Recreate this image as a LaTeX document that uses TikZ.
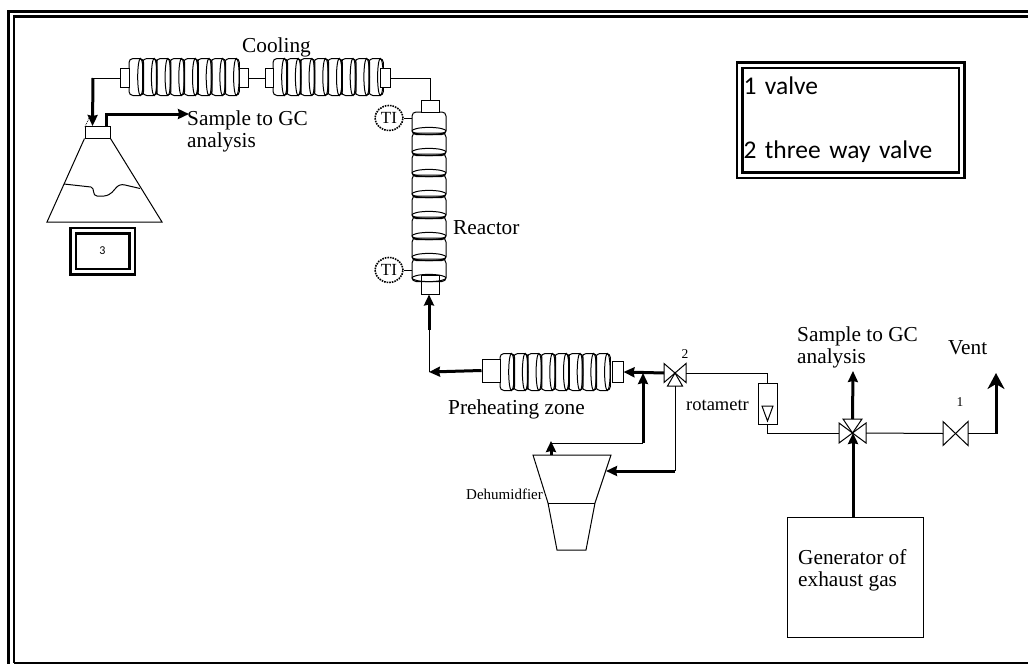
\documentclass[tikz,border=0pt]{standalone}
\usepackage{fontspec}
\setmainfont{Liberation Serif}
\newfontfamily\legendfont{Carlito}
\usetikzlibrary{
    shapes.geometric,
    arrows.meta,
    positioning,
    calc
}
\tikzset{
    wire/.style={line width=1pt, black},
    pipe/.style={line width=3pt, black},
    tipsmall/.style={-{Stealth[length=11pt, width=10pt, inset=1pt]}},
    tiplarge/.style={-{Stealth[length=16pt, width=17pt, inset=5pt]}},
    stub/.style={
        rectangle, draw, line width=1pt, fill=white, inner sep=0pt
    },
    lbl/.style={
        font=\fontsize{21.3}{22}\selectfont, inner sep=0pt, anchor=west, align=left
    },
    tinylbl/.style={font=\fontsize{13.5}{14}\selectfont, inner sep=0pt},
    tempring/.style={
        ellipse, draw, densely dotted, line width=1.6pt, inner sep=0pt,
        minimum width=28pt, minimum height=25pt, font=\fontsize{17}{17}\selectfont
    },
    dblbox/.style={
        rectangle, draw, double, line width=2.5pt, double distance=3pt, inner sep=0pt
    },
    pics/coil/.style={code={
        \foreach \i in {0,...,7} {
            \draw [wire, rounded corners=4pt]
                ({\i*13.7},-18.5) rectangle ({\i*13.7+14.5},18.5);
            \draw [wire] ({\i*13.7+11.5},0) ellipse (2.8 and 18.5);
        }
    }},
    pics/reactorcol/.style={code={
        \foreach \i in {0,...,7} {
            \draw [wire, rounded corners=4pt]
                (-17,{\i*21}) -- (17,{\i*21}) -- (17,{\i*21+22.5}) -- (-17,{\i*21+22.5}) -- cycle;
            \draw [wire] (0,{\i*21+19}) ellipse (17 and 3.6);
        }
    }},
    pics/valve/.style 2 args={code={
        \draw [wire] (-#1,-#2) -- (#1,#2) -- (#1,-#2) -- (-#1,#2) -- cycle;
        \coordinate (-west) at (-#1,0);
        \coordinate (-east) at (#1,0);
    }},
    pics/valveleg/.style 2 args={code={
        \draw [wire] (0,0) -- (-#1,#2) -- (#1,#2) -- cycle;
        \coordinate (-tip) at (0,#2);
    }},
}

\begin{document}
\begin{tikzpicture}[x=1pt, y=-1pt]

    \useasboundingbox (0,0) rectangle (1028,664);

    % ── frame ────────────────────────────────────────────
    \draw [line width=3pt] (1028,11.5) -- (8.5,11.5) -- (8.5,664);
    \draw [line width=2.4pt] (1028,16.5) -- (14,16.5) -- (14,663);
    \draw [line width=1.2pt] (14,663) -- (1028,663);

    % ── legend boxes ─────────────────────────────────────
    \node [dblbox, minimum width=222pt, minimum height=110pt, text width=214pt, align=left,
           font=\legendfont\fontsize{25.5}{25.5}\selectfont]
        (legendbox) at (850.5,120) {1 valve \\[38.5pt] 2 three way valve};
    \node [dblbox, minimum width=59pt, minimum height=41pt,
           font=\legendfont\fontsize{12}{12}\selectfont]
        (flaskbox) at (102.5,251) {3};

    % ── cooling coils ────────────────────────────────────
    \pic at (129,77) {coil};
    \pic at (273,77) {coil};
    \node [stub, minimum width=9pt, minimum height=19pt] (coolaL) at (124.5,78) {};
    \node [stub, minimum width=9pt, minimum height=19pt] (coolaR) at (243.5,78) {};
    \node [stub, minimum width=8pt, minimum height=19pt] (coolbL) at (269,78) {};
    \node [stub, minimum width=10pt, minimum height=19pt] (coolbR) at (385,78) {};
    \node [lbl] (cooling) at (242,47.5) {Cooling};

    % ── flask ────────────────────────────────────────────
    \node [stub, minimum width=25pt, minimum height=12pt] (flaskneck) at (97.5,132) {};
    \draw [wire] (flaskneck.south west) -- (47,222) -- (162,222) -- (flaskneck.south east);
    \draw [wire] (64,184) -- (91,187) .. controls (95,188) and (92,196) .. (97,196)
        .. controls (108,197) and (111,194) .. (115,189)
        .. controls (118,185) and (121,184) .. (125,185) -- (140,188.5);
    \coordinate (flaskin) at (92.5,126);
    \coordinate (flaskout) at (106,126);
    \coordinate (sampletip) at (189,114);
    \node [lbl] (samplea) at (187,131) {Sample to GC\\analysis};
    \draw [densely dotted, line width=0.8pt] (85,127) -- (89,118);

    % ── reactor ──────────────────────────────────────────
    \pic at (429,112) {reactorcol};
    \node [stub, minimum width=18pt, minimum height=12pt] (reactortop) at (430,106) {};
    \node [draw, line width=1pt, inner sep=0pt, minimum width=18pt, minimum height=19pt]
        (reactorbot) at (430,284.5) {};
    \node [tempring] (titop) at (389,118) {TI};
    \node [tempring] (tibot) at (389,270) {TI};
    \draw [wire] (titop.east) -- (412,118);
    \draw [wire] (tibot.east) -- (412,270);
    \node [lbl] (reactor) at (453,228) {Reactor};

    % ── preheating ───────────────────────────────────────
    \pic at (500,372) {coil};
    \node [stub, minimum width=18pt, minimum height=23pt] (preL) at (491,370.5) {};
    \node [stub, minimum width=11pt, minimum height=21pt] (preR) at (617.5,372) {};
    \node [lbl] (preheat) at (448,409) {Preheating zone};

    % ── dehumidifier ─────────────────────────────────────
    \coordinate (dehtop) at (551,455);
    \draw [wire] (533,455) -- (611,455) -- (595,503) -- (586,550) -- (557,550) -- (548,503) -- cycle;
    \draw [wire] (548,503) -- (595,503);
    \node [lbl, font=\fontsize{15}{15}\selectfont] (dehum) at (466,494) {Dehumidfier};

    % ── valves and rotameter ─────────────────────────────
    \pic (vtwo) at (675,373) {valve={11}{9.5}};
    \pic (vtwoleg) at (675,373) {valveleg={7.5}{13}};
    \pic (vfour) at (852.5,433) {valve={13.5}{10}};
    \pic (vfourleg) at (852.5,433) {valveleg={9.5}{-14}};
    \pic (vone) at (955.5,433.5) {valve={12.5}{12}};
    \node [tinylbl] (vtwonum) at (685,354) {2};
    \node [tinylbl] (vonenum) at (960,402) {1};
    \node [stub, minimum width=19pt, minimum height=41pt] (rota) at (767.5,403.5) {};
    \draw [wire] (762,406) -- (773,406) -- (767.5,421) -- cycle;
    \node [lbl, font=\fontsize{18.5}{18.5}\selectfont] (rotalbl) at (686,405) {rotametr};

    % ── generator ────────────────────────────────────────
    \node [stub, minimum width=136pt, minimum height=120pt] (gen) at (855,577) {};
    \node [lbl] (genlbl) at (798,570) {Generator of\\exhaust gas};
    \node [lbl] (sampleb) at (797,347) {Sample to GC\\analysis};
    \node [lbl] (vent) at (948,348) {Vent};

    % ── arrows ───────────────────────────────────────────
    \coordinate (coolbend) at (93,78);
    \coordinate (reactorbend) at (429,372);
    \coordinate (reactormid) at (429,330);
    \coordinate (dehbranch) at (643,443);
    \coordinate (dehfeed) at (675,471);
    \coordinate (ventbend) at (996,433.5);
    \coordinate (genout) at (853,517);
    \draw [wire] (coolaR.east) -- (coolbL.west);
    \draw [wire] (coolaL.west) -- (coolbend);
    \draw [pipe, tipsmall] (coolbend) -- (flaskin);
    \draw [pipe, tipsmall] (flaskout) |- (sampletip);
    \draw [wire] (coolbR.east) -| (reactortop.north);
    \draw [pipe, tipsmall] (preL.west) -- (reactorbend);
    \draw [wire] (reactorbend) -- (reactormid);
    \draw [pipe, tipsmall] (reactormid) -- (reactorbot.south -| reactormid);
    \draw [pipe, tipsmall] (vtwo-west) -- (preR.east);
    \draw [pipe, tipsmall] (dehbranch) -- (643,373);
    \draw [wire] (dehbranch) -- (551,443);
    \draw [pipe, tipsmall, shorten >=-1pt] (dehtop) -- (551,442);
    \draw [wire] (vtwoleg-tip) -- (dehfeed);
    \draw [pipe, tipsmall] (dehfeed) -- (606,471);
    \draw [wire] (vtwo-east) -| (rota.north);
    \draw [wire] (rota.south) |- (vfour-west);
    \draw [pipe, tipsmall] (vfourleg-tip) -- (853,371);
    \draw [pipe, tipsmall] (genout) -- (853,433);
    \draw [wire] (vfour-east) -- (vone-west);
    \draw [wire] (vone-east) -- (ventbend);
    \draw [pipe, tiplarge] (ventbend) -- (996,373);

\end{tikzpicture}
\end{document}
